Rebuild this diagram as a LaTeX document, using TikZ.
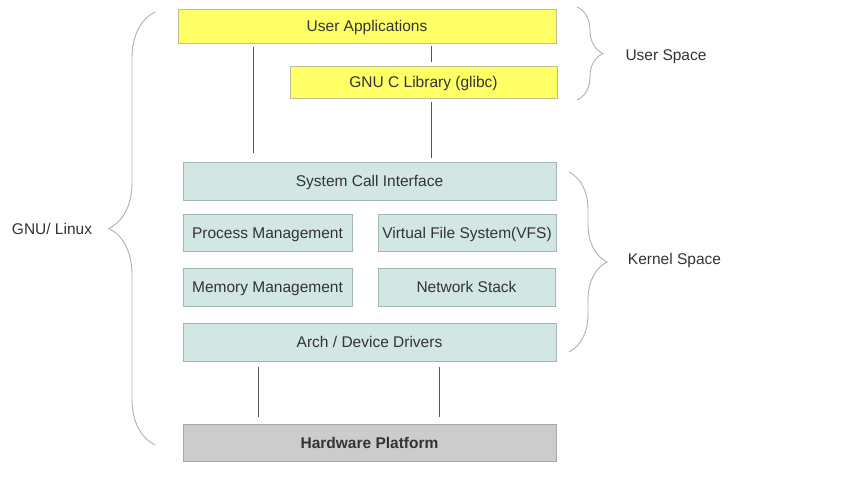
\documentclass[tikz,border=0pt]{standalone}
\usepackage{fontspec}
\setmainfont{Liberation Sans}
\usetikzlibrary{decorations.pathreplacing}

\definecolor{userfill}{HTML}{FFFF66}
\definecolor{userline}{HTML}{BDBD8E}
\definecolor{kernfill}{HTML}{D2E7E4}
\definecolor{kernline}{HTML}{A3B7B5}
\definecolor{hwfill}{HTML}{CCCCCC}
\definecolor{hwline}{HTML}{A8A8A8}
\definecolor{textgray}{HTML}{333333}
\definecolor{linegray}{HTML}{555555}
\definecolor{bracegray}{HTML}{B0B0B0}

\begin{document}
\begin{tikzpicture}[
    x=1pt, y=-1pt,
    box/.style={rectangle, draw, inner sep=0pt, line width=0.9pt, text=textgray,
        text height=11pt, text depth=0pt, font=\fontsize{15.5}{18}\selectfont},
    user/.style={box, fill=userfill, draw=userline},
    kernel/.style={box, fill=kernfill, draw=kernline},
    hardware/.style={box, fill=hwfill, draw=hwline, font=\fontsize{15.5}{18}\selectfont\bfseries},
    plain/.style={line width=0.9pt, draw=linegray},
    curly/.style={decorate, decoration={brace, amplitude=#1}, draw=bracegray, line width=0.9pt},
    side/.style={text=textgray, text height=11pt, text depth=0pt, font=\fontsize{15.5}{18}\selectfont}
]
    \useasboundingbox (0,0) rectangle (853,480);

    \node[user, minimum width=378pt, minimum height=34pt] (apps) at (367.0, 26.0) {User Applications};
    \node[user, minimum width=267pt, minimum height=32pt] (glibc) at (423.5, 82.0) {GNU C Library (glibc)};
    \node[kernel, minimum width=373pt, minimum height=38pt] (sci) at (369.5, 181.0) {System Call Interface};
    \node[kernel, minimum width=169pt, minimum height=37pt] (proc) at (267.5, 232.5) {Process Management};
    \node[kernel, minimum width=178pt, minimum height=37pt] (vfs) at (467.0, 232.5) {Virtual File System(VFS)};
    \node[kernel, minimum width=169pt, minimum height=38pt] (mem) at (267.5, 287.0) {Memory Management};
    \node[kernel, minimum width=177pt, minimum height=38pt] (net) at (466.5, 287.0) {Network Stack};
    \node[kernel, minimum width=373pt, minimum height=38pt] (arch) at (369.5, 342.0) {Arch / Device Drivers};
    \node[hardware, minimum width=373pt, minimum height=37pt] (hw) at (369.5, 442.5) {Hardware Platform};

    \coordinate (xa) at (253, 0);
    \coordinate (xb) at (431, 0);
    \coordinate (xc) at (258, 0);
    \coordinate (xd) at (439, 0);

    \draw[plain, shorten <=4pt, shorten >=9pt] (apps.south -| xa) -- (sci.north -| xa);
    \draw[plain, shorten <=3pt, shorten >=4pt] (apps.south -| xb) -- (glibc.north -| xb);
    \draw[plain, shorten <=4pt, shorten >=4pt] (glibc.south -| xb) -- (sci.north -| xb);
    \draw[plain, shorten <=6pt, shorten >=7pt] (arch.south -| xc) -- (hw.north -| xc);
    \draw[plain, shorten <=6pt, shorten >=7pt] (arch.south -| xd) -- (hw.north -| xd);

    % braces
    \draw[curly=46pt] (155, 445) -- (155, 12);
    \draw[curly=26pt] (577, 7) -- (577, 100);
    \draw[curly=38pt] (569, 172) -- (569, 352);

    \node[side] (linux) at (52, 229) {GNU/ Linux};
    \node[side] (userspace) at (666, 55) {User Space};
    \node[side] (kernelspace) at (674.5, 259) {Kernel Space};
\end{tikzpicture}
\end{document}
